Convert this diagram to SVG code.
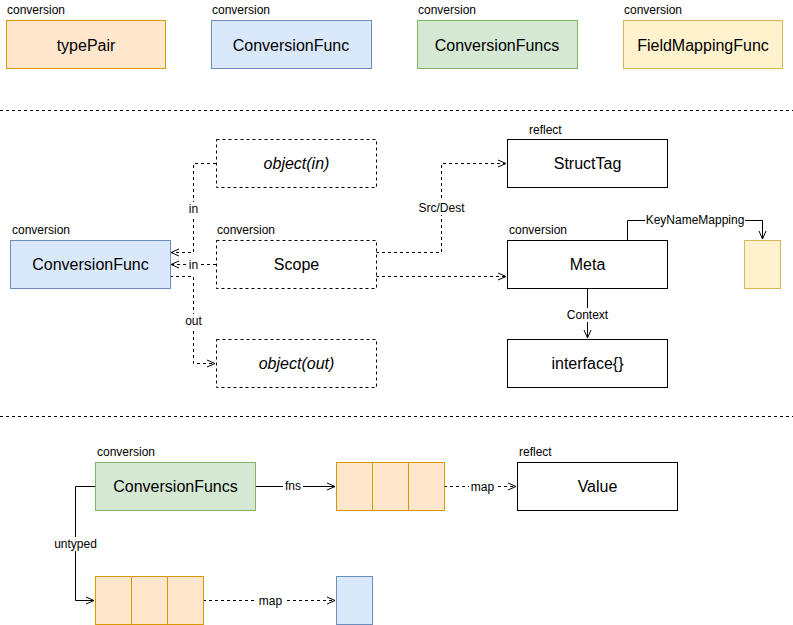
<svg xmlns="http://www.w3.org/2000/svg" width="793" height="625" viewBox="0 0 793 625">
<defs>
<style>
text{font-family:"Liberation Sans",Arial,sans-serif;fill:#000}
.t{font-size:16px;text-anchor:middle;dominant-baseline:central}
.i{font-style:italic}
.lb{font-size:12px}
.el{font-size:12px;text-anchor:middle;dominant-baseline:central}
.bg{fill:#fff}
.plain{fill:#fff;stroke:#000;stroke-width:1}
.dash{fill:#fff;stroke:#000;stroke-width:1;stroke-dasharray:3 3}
.or{fill:#ffe6cc;stroke:#d79b00}
.bl{fill:#dae8fc;stroke:#6c8ebf}
.gr{fill:#d5e8d4;stroke:#82b366}
.ye{fill:#fff2cc;stroke:#d6b656}
.c{fill:none;stroke:#000;stroke-width:1}
.cd{fill:none;stroke:#000;stroke-width:1;stroke-dasharray:3 3}
.sep{stroke:#000;stroke-dasharray:3 3}
</style>
<marker id="a" viewBox="0 0 10 10" refX="9" refY="5" markerWidth="10" markerHeight="10" markerUnits="userSpaceOnUse" orient="auto">
<polyline points="1,1.5 9,5 1,8.5" fill="none" stroke="#000" stroke-width="1"/>
</marker>
</defs>
<rect width="793" height="625" fill="#fff"/>

<g id="separators">
<line class="sep" x1="0" y1="110.5" x2="793" y2="110.5"/>
<line class="sep" x1="0" y1="416.5" x2="793" y2="416.5"/>
</g>

<g id="legend-typePair">
<text class="lb" x="7" y="14">conversion</text>
<rect class="or" x="6.5" y="20.5" width="159" height="48"/>
<text class="t" x="86" y="45">typePair</text>
</g>
<g id="legend-ConversionFunc">
<text class="lb" x="212" y="14">conversion</text>
<rect class="bl" x="211.5" y="20.5" width="160" height="48"/>
<text class="t" x="291" y="45">ConversionFunc</text>
</g>
<g id="legend-ConversionFuncs">
<text class="lb" x="418" y="14">conversion</text>
<rect class="gr" x="417.5" y="20.5" width="160" height="48"/>
<text class="t" x="497" y="45">ConversionFuncs</text>
</g>
<g id="legend-FieldMappingFunc">
<text class="lb" x="624" y="14">conversion</text>
<rect class="ye" x="623.5" y="20.5" width="159" height="48"/>
<text class="t" x="703" y="45">FieldMappingFunc</text>
</g>

<g id="connectors">
<path class="cd" d="M216 163.5 H193.5 V252.5 H171" marker-end="url(#a)"/>
<path class="cd" d="M216 264.5 H171" marker-end="url(#a)"/>
<path class="cd" d="M170 276.5 H193.5 V363.5 H215" marker-end="url(#a)"/>
<path class="cd" d="M376 252.5 H441.5 V163.5 H506" marker-end="url(#a)"/>
<path class="cd" d="M376 276.5 H506" marker-end="url(#a)"/>
<path class="c" d="M627.5 240 V220.5 H762.5 V239" marker-end="url(#a)"/>
<path class="c" d="M587.5 288 V338" marker-end="url(#a)"/>
<path class="c" d="M255 486.5 H335" marker-end="url(#a)"/>
<path class="cd" d="M444 486.5 H516" marker-end="url(#a)"/>
<path class="c" d="M95 486.5 H75.5 V600.5 H94" marker-end="url(#a)"/>
<path class="cd" d="M203 600.5 H335" marker-end="url(#a)"/>
<g id="edge-labels">
<rect class="bg" x="186" y="202" width="15" height="14"/>
<text class="el" x="193.5" y="209">in</text>
<rect class="bg" x="188" y="258" width="11" height="13"/>
<text class="el" x="193.5" y="264.5">in</text>
<rect class="bg" x="183" y="314" width="21" height="14"/>
<text class="el" x="193.5" y="321">out</text>
<rect class="bg" x="414" y="201" width="55" height="14"/>
<text class="el" x="441.5" y="208">Src/Dest</text>
<rect class="bg" x="645" y="213" width="100" height="14"/>
<text class="el" x="695" y="220">KeyNameMapping</text>
<rect class="bg" x="565" y="308" width="45" height="14"/>
<text class="el" x="587.5" y="315">Context</text>
<rect class="bg" x="283" y="479" width="20" height="14"/>
<text class="el" x="293" y="486">fns</text>
<rect class="bg" x="469" y="479" width="27" height="14"/>
<text class="el" x="482.5" y="486.5">map</text>
<rect class="bg" x="53" y="537" width="46" height="14"/>
<text class="el" x="75.5" y="544">untyped</text>
<rect class="bg" x="257" y="593" width="27" height="14"/>
<text class="el" x="270.5" y="600.5">map</text>
</g>
</g>

<g id="object-in">
<rect class="dash" x="216.5" y="139.5" width="160" height="48"/>
<text class="t i" x="296.5" y="163.5">object(in)</text>
</g>
<g id="scope">
<text class="lb" x="217" y="234">conversion</text>
<rect class="dash" x="216.5" y="240.5" width="160" height="48"/>
<text class="t" x="296.5" y="264.5">Scope</text>
</g>
<g id="object-out">
<rect class="dash" x="216.5" y="339.5" width="160" height="48"/>
<text class="t i" x="296.5" y="363.5">object(out)</text>
</g>
<g id="conversionfunc">
<text class="lb" x="12" y="234">conversion</text>
<rect class="bl" x="10.5" y="240.5" width="160" height="48"/>
<text class="t" x="90.5" y="264.5">ConversionFunc</text>
</g>
<g id="structtag">
<text class="lb" x="529" y="134">reflect</text>
<rect class="plain" x="507.5" y="139.5" width="160" height="48"/>
<text class="t" x="587.5" y="163.5">StructTag</text>
</g>
<g id="meta">
<text class="lb" x="509" y="234">conversion</text>
<rect class="plain" x="507.5" y="240.5" width="160" height="48"/>
<text class="t" x="587.5" y="264.5">Meta</text>
</g>
<g id="fieldmapping-small">
<rect class="ye" x="744.5" y="240.5" width="36" height="48"/>
</g>
<g id="interface">
<rect class="plain" x="507.5" y="339.5" width="160" height="48"/>
<text class="t" x="587.5" y="363.5">interface{}</text>
</g>

<g id="conversionfuncs">
<text class="lb" x="97" y="456">conversion</text>
<rect class="gr" x="95.5" y="462.5" width="160" height="48"/>
<text class="t" x="175.5" y="486.5">ConversionFuncs</text>
</g>
<g id="fns-array">
<rect class="or" x="336.5" y="462.5" width="36" height="48"/>
<rect class="or" x="372.5" y="462.5" width="36" height="48"/>
<rect class="or" x="408.5" y="462.5" width="36" height="48"/>
</g>
<g id="value">
<text class="lb" x="519" y="456">reflect</text>
<rect class="plain" x="517.5" y="462.5" width="160" height="48"/>
<text class="t" x="597.5" y="486.5">Value</text>
</g>
<g id="untyped-array">
<rect class="or" x="95.5" y="576.5" width="36" height="48"/>
<rect class="or" x="131.5" y="576.5" width="36" height="48"/>
<rect class="or" x="167.5" y="576.5" width="36" height="48"/>
</g>
<g id="untyped-value">
<rect class="bl" x="336.5" y="576.5" width="36" height="48"/>
</g>
</svg>
